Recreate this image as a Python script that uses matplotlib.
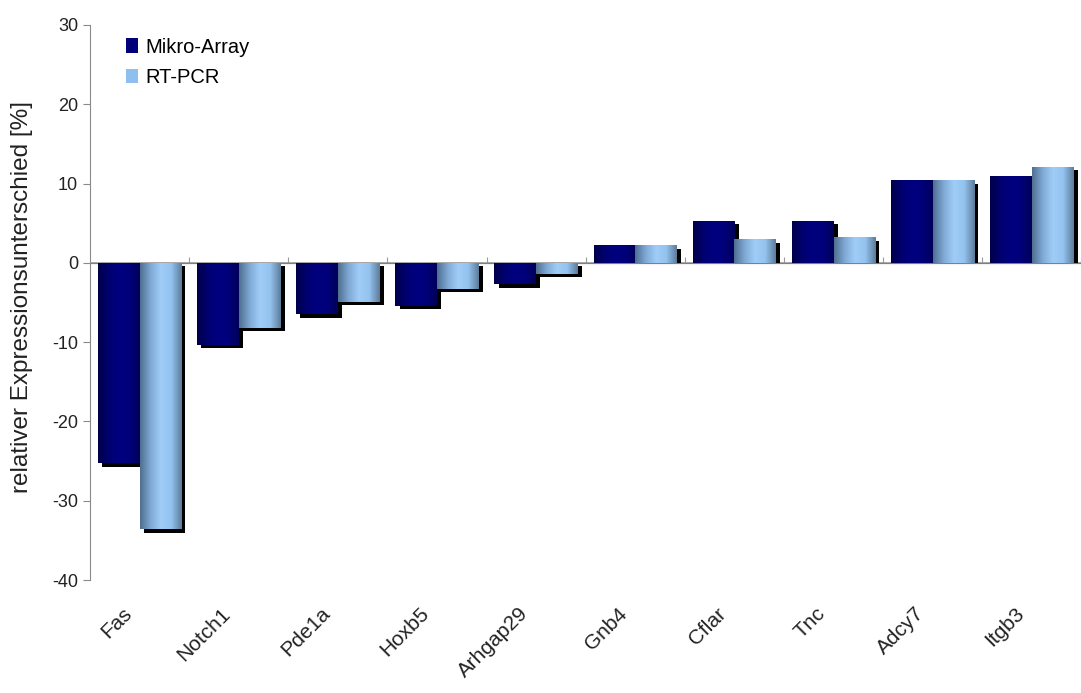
import numpy as np
import matplotlib
matplotlib.use("Agg")
import matplotlib.pyplot as plt
import matplotlib.transforms as mtransforms
from matplotlib.colors import LinearSegmentedColormap
from matplotlib.patches import Patch, Rectangle

plt.rcParams['font.family'] = ['Liberation Sans', 'DejaVu Sans']
plt.rcParams['axes.unicode_minus'] = False

# Gene list and relative expression differences (%)
genes = ["Fas", "Notch1", "Pde1a", "Hoxb5", "Arhgap29", "Gnb4", "Cflar", "Tnc", "Adcy7", "Itgb3"]
mikro_array = [-25.3, -10.3, -6.5, -5.4, -2.7, 2.2, 5.3, 5.3, 10.5, 11.0]
rt_pcr = [-33.6, -8.2, -4.9, -3.3, -1.4, 2.2, 3.0, 3.2, 10.4, 12.1]

# horizontal shading across each bar (edge -> centre -> edge)
mikro_cmap = LinearSegmentedColormap.from_list(
    "mikro", ["#00004a", "#000070", "#000080", "#00007a", "#00005a"])
rt_cmap = LinearSegmentedColormap.from_list(
    "rt", ["#4f6f92", "#7fa9d4", "#9fcdf8", "#94c3ef", "#5d7d9c"])

fig = plt.figure(figsize=(10.81, 6.93), dpi=100)
ax = fig.add_axes([0.0833, 0.163, 0.917, 0.801])

x = np.arange(len(genes))
width = 0.42
grad = np.linspace(0, 1, 64).reshape(1, -1)

# drop shadow: same bar shifted right/down, kept on its own side of zero
shadow_trans = mtransforms.offset_copy(ax.transData, fig=fig, x=3, y=-2.5, units='points')


def shaded_bars(xpos, values, cmap, base):
    bars = ax.bar(xpos, values, width, color=base, zorder=3, linewidth=0)
    for b in bars:
        x0, w, h = b.get_x(), b.get_width(), b.get_height()
        sh = Rectangle((x0, 0), w, h, transform=shadow_trans, color='black', zorder=2, lw=0)
        ax.add_patch(sh)
        side = Rectangle((x0 - 1, 0), w + 2, 100 if h > 0 else -100,
                         transform=ax.transData)
        sh.set_clip_path(side)
        im = ax.imshow(grad, cmap=cmap, aspect='auto', zorder=4,
                       extent=(x0, x0 + w, min(0, h), max(0, h)))
        im.set_clip_path(b)
    return bars


shaded_bars(x - 0.21, mikro_array, mikro_cmap, "#000078")
shaded_bars(x + 0.21, rt_pcr, rt_cmap, "#8fbfee")

ax.set_xlim(-0.5, len(genes) - 0.5)
ax.set_ylim(-40, 30)
ax.set_yticks(np.arange(-40, 31, 10))

# zero line with ticks between categories
ax.axhline(0, color='#9a9a9a', lw=1.2, zorder=1)
zero_axis = ax.secondary_xaxis(40 / 70)
zero_axis.spines['bottom'].set_visible(False)
zero_axis.set_xticks(np.arange(len(genes)) + 0.5)
zero_axis.tick_params(axis='x', length=4, color='#9a9a9a', labelbottom=False, labeltop=False)

for side in ['top', 'right', 'bottom']:
    ax.spines[side].set_visible(False)
ax.spines['left'].set_color('#8a8a8a')
ax.tick_params(axis='y', colors='#8a8a8a', length=5, labelsize=13, labelcolor='#222222')

ax.set_xticks(x)
ax.set_xticklabels(genes, rotation=45, ha='right', va='center', rotation_mode='anchor',
                   fontsize=15, color='#222222')
ax.tick_params(axis='x', length=0, pad=22)
label_shift = mtransforms.ScaledTranslation(-11 / 100, 0, fig.dpi_scale_trans)
for lbl in ax.get_xticklabels():
    lbl.set_transform(lbl.get_transform() + label_shift)

ax.set_ylabel("relativer Expressionsunterschied [%]", fontsize=17.5, color='#222222')
ax.yaxis.set_label_coords(-0.058, 0.51)

handles = [Patch(facecolor="#000078", label="Mikro-Array"),
           Patch(facecolor="#8fbfee", label="RT-PCR")]
ax.legend(handles=handles, loc='upper left', bbox_to_anchor=(0.018, 1.01), frameon=False,
          fontsize=14.5, handlelength=0.6, handleheight=0.7, handletextpad=0.35,
          labelspacing=0.55)

fig.savefig("out.png", dpi=100)
